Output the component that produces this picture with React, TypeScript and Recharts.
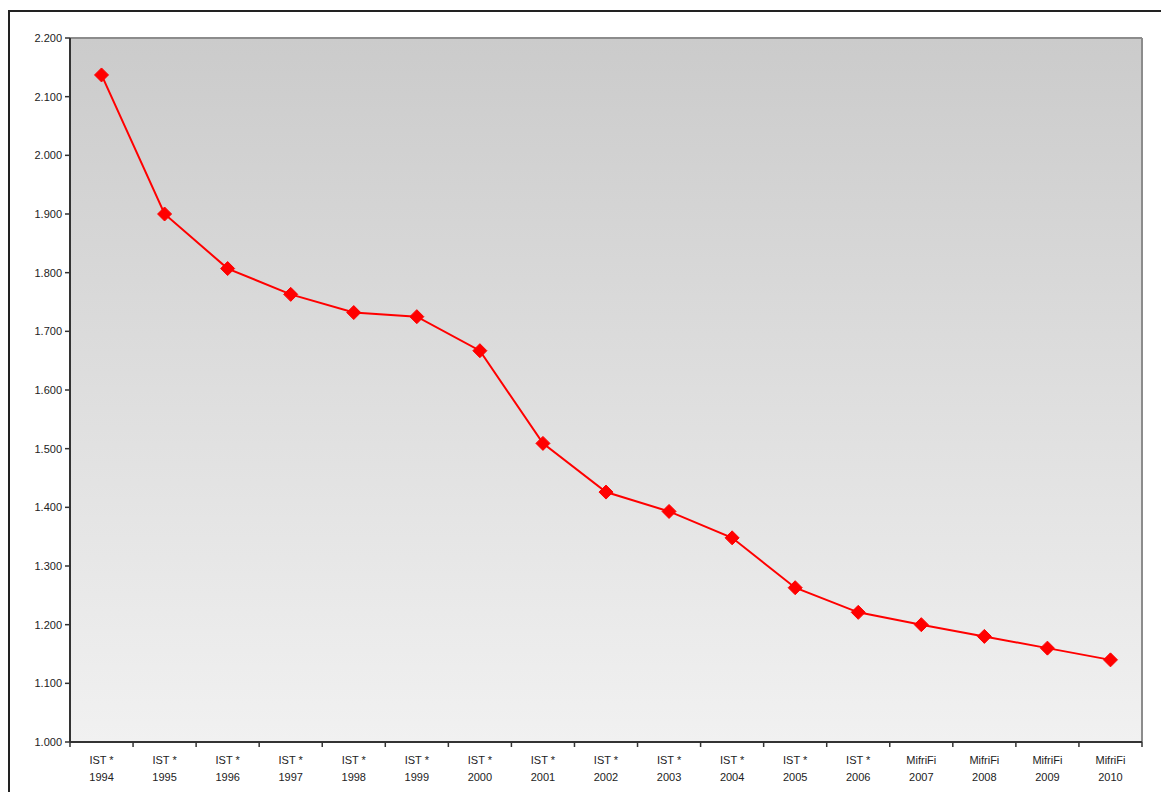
import { LineChart, Line, XAxis, YAxis, ReferenceLine, ReferenceArea } from 'recharts'

const groups = ['IST *', 'IST *', 'IST *', 'IST *', 'IST *', 'IST *', 'IST *', 'IST *', 'IST *', 'IST *', 'IST *', 'IST *', 'IST *', 'MifriFi', 'MifriFi', 'MifriFi', 'MifriFi']
const years = ['1994', '1995', '1996', '1997', '1998', '1999', '2000', '2001', '2002', '2003', '2004', '2005', '2006', '2007', '2008', '2009', '2010']
const values = [2137, 1900, 1807, 1763, 1732, 1725, 1667, 1509, 1426, 1393, 1348, 1263, 1221, 1200, 1180, 1160, 1140]
const yTicks = [1000, 1100, 1200, 1300, 1400, 1500, 1600, 1700, 1800, 1900, 2000, 2100, 2200]

const W = 1161
const H = 792
const M = { top: 38, right: 19, left: 10, bottom: 20 }
const Y_W = 60
const BAND = (W - M.left - M.right - Y_W) / years.length

const data = values.map((v, i) => ({ x: i + 0.5, v }))
const xTicks = years.map((_, i) => i).concat([years.length])

const fmt = (v: number) => {
  const s = String(v)
  return s.length > 3 ? s.slice(0, s.length - 3) + '.' + s.slice(-3) : s
}

function XTick(props: any) {
  const { x, y, payload } = props
  const i = payload.value
  if (i >= years.length) return <g />
  return (
    <g>
      <text x={x + BAND / 2} y={y} textAnchor="middle" fontSize={11} fill="#222" fontFamily="Liberation Sans, Arial, sans-serif">
        <tspan x={x + BAND / 2} dy={15}>{groups[i]}</tspan>
        <tspan x={x + BAND / 2} dy={17}>{years[i]}</tspan>
      </text>
    </g>
  )
}

function Diamond(props: any) {
  const { cx, cy } = props
  if (cx == null || cy == null) return <g />
  const r = 7
  return <polygon points={`${cx},${cy - r} ${cx + r},${cy} ${cx},${cy + r} ${cx - r},${cy}`} fill="#ff0000" stroke="#ff0000" strokeWidth={1} />
}

export default function App() {
  return (
    <div style={{ position: 'absolute', left: 0, top: 0, width: W, height: H, overflow: 'hidden', background: '#fff' }}>
      <div style={{ position: 'absolute', left: 8, top: 10, width: W, height: H, border: '2px solid #222', boxSizing: 'border-box' }} />
      <div style={{ position: 'absolute', left: 0, top: 0 }}>
        <svg width={0} height={0} style={{ position: 'absolute' }}>
          <defs>
            <linearGradient id="plotBg" x1="0" y1="0" x2="0" y2="1">
              <stop offset="0%" stopColor="#cbcbcb" />
              <stop offset="100%" stopColor="#f1f1f1" />
            </linearGradient>
          </defs>
        </svg>
        <LineChart width={W} height={H} data={data} margin={M}>
          <ReferenceArea x1={0} x2={years.length} y1={1000} y2={2200} fill="url(#plotBg)" fillOpacity={1} stroke="none" />
          <XAxis
            dataKey="x"
            type="number"
            domain={[0, years.length]}
            ticks={xTicks}
            interval={0}
            tick={<XTick />}
            tickSize={5}
            tickLine={{ stroke: '#333', strokeWidth: 1.5 }}
            axisLine={{ stroke: '#333', strokeWidth: 2 }}
            height={30}
          />
          <YAxis
            type="number"
            domain={[1000, 2200]}
            ticks={yTicks}
            interval={0}
            width={Y_W}
            tickFormatter={fmt}
            tickSize={5}
            tickMargin={3}
            tick={{ fontSize: 11, fill: '#222', fontFamily: 'Liberation Sans, Arial, sans-serif' }}
            tickLine={{ stroke: '#333', strokeWidth: 1.5 }}
            axisLine={{ stroke: '#333', strokeWidth: 2 }}
          />
          <ReferenceLine y={2200} stroke="#8c8c8c" strokeWidth={2} />
          <ReferenceLine x={years.length} stroke="#8c8c8c" strokeWidth={2} />
          <Line
            dataKey="v"
            stroke="#ff0000"
            strokeWidth={2}
            dot={<Diamond />}
            activeDot={false}
            isAnimationActive={false}
          />
        </LineChart>
      </div>
    </div>
  )
}
